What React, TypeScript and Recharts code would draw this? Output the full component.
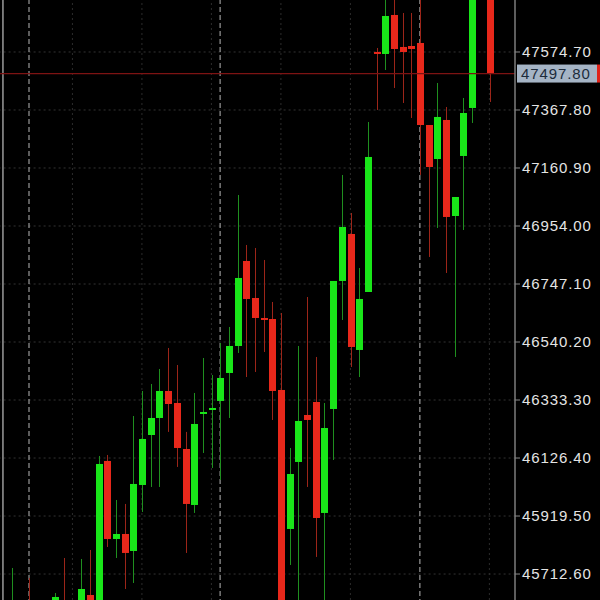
import {
  Bar,
  CartesianGrid,
  ComposedChart,
  ReferenceLine,
  XAxis,
  YAxis,
} from "recharts";

// candle slots, one per bar position (null = nothing drawn there)
const slots = [
  -6, -5, -4, -3, -2, -1, 0, 1, 2, 3, 4, 5, 6, 7, 8, 9, 10, 11, 12, 13, 14, 15,
  16, 17, 18, 19, 20, 21, 22, 23, 24, 25, 26, 27, 28, 29, 30, 31, 32, 33, 34,
  35, 36, 37, 38, 39, 40, 41, 42, 43, 44, 45, 46, 47, 48, 49, 50, 51, 52,
];

const opens = [
  null, 45477.3, 45566.5, 45577.2, 45495.2, 45530.9, 45609.3, 45609.3, 45530.9,
  45602.2, 45637.8, 45577.2, 46115.9, 45837.6, 45855.4, 45794.8, 46030.2,
  46208.5, 46269.2, 46365.5, 46322.7, 46158.6, 45958.9, 46283.5, 46297.7,
  46329.9, 46429.7, 46526.0, 46829.2, 46697.2, 46625.9, 46622.3, 46369.1,
  45873.3, 46112.3, 46279.9, 46326.3, 45930.4, 46301.3, 46757.9, 46925.5,
  46511.8, 46718.6, 47574.7, 47567.6, 47706.7, 47592.6, 47596.1, 47606.8,
  47314.3, 47193.0, 47332.2, 46989.7, 47203.8, 47375.0, 47974.2, 47831.5, null,
  null,
];

const highs = [
  null, 45734.1, 45598.6, 45698.5, 45609.3, 45616.5, 45644.9, 45769.8, 45612.9,
  45766.3, 45798.4, 46133.7, 46137.3, 45976.7, 45962.5, 46276.3, 46365.5,
  46390.5, 46444.0, 46518.9, 46458.2, 46219.5, 46358.4, 46483.2, 46422.6,
  46536.7, 46593.8, 47064.6, 46886.3, 46875.6, 46832.8, 46683.0, 46643.7,
  46162.2, 46526.0, 46700.8, 46486.8, 46322.7, 46757.9, 47136.0, 47000.4,
  46804.2, 47325.0, 47589.0, 47788.7, 47778.0, 47713.8, 47713.8, 47770.9,
  47314.3, 47464.1, 47378.5, 47057.5, 47410.6, 47867.2, 48045.6, 47867.2, null,
  null,
];

const lows = [
  null, 45441.7, 45423.9, 45441.7, 45448.8, 45477.3, 45566.5, 45530.9, 45513.0,
  45577.2, 45541.5, 45555.8, 45809.1, 45769.8, 45659.2, 45680.6, 45933.9,
  46023.1, 46023.1, 46219.5, 46094.5, 45787.7, 45930.4, 46144.4, 46090.8,
  46048.0, 46269.2, 46501.1, 46415.3, 46433.3, 46504.6, 46262.1, 45530.9,
  45744.8, 45602.2, 46023.1, 45773.5, 45602.2, 46119.4, 46618.8, 46451.1,
  46415.3, 46718.6, 47367.8, 47510.5, 47446.3, 47392.8, 47339.3, 47136.0,
  46843.5, 46946.9, 46786.4, 46486.8, 46939.8, 47321.5, 47795.9, 47396.4, null,
  null,
];

const closes = [
  null, 45584.3, 45477.3, 45513.0, 45577.2, 45591.5, 45630.7, 45577.2, 45584.3,
  45659.2, 45566.5, 46105.1, 45837.6, 45855.4, 45787.7, 46033.8, 46194.3,
  46269.2, 46365.5, 46319.1, 46162.2, 45962.5, 46247.8, 46290.6, 46304.9,
  46411.9, 46526.0, 46768.6, 46693.7, 46625.9, 46618.8, 46365.5, 45584.3,
  46069.4, 46258.5, 46262.1, 45912.5, 46233.5, 46757.9, 46950.5, 46522.5,
  46693.7, 47200.2, 47567.6, 47703.1, 47585.4, 47574.7, 47585.4, 47314.3,
  47164.5, 47342.9, 46986.2, 47057.5, 47357.1, 47831.5, 47867.2, 47497.8, null,
  null,
];

const priceTicks = [
  45712.6, 45919.5, 46126.4, 46333.3, 46540.2, 46747.1, 46954.0, 47160.9,
  47367.8, 47574.7, 47781.6,
];

const sessionBreaks = [-3, 19, 42];
const gridSlots = [2, 10, 18, 26, 34, 50];
const edgeSlot = -6;

const lastPrice = 47497.8;

const data = slots.map((i, k) => ({
  i,
  open: opens[k],
  high: highs[k],
  low: lows[k],
  close: closes[k],
}));

const UP = "#19e619";
const DOWN = "#e8281b";
const UP_WICK = "#1f8f1f";
const DOWN_WICK = "#9c2519";
const FONT = "'Liberation Sans', Arial, sans-serif";

function Candle(props: any) {
  const { x, y, width, height, payload } = props;
  if (payload == null || payload.high == null) return null;
  const { open, high, low, close } = payload;
  const top = Math.min(y, y + height);
  const h = Math.abs(height);
  const k = h / (high - low || 1);
  const py = (v: number) => top + (high - v) * k;
  const cx = Math.round(x + width / 2) + 0.5;
  const up = close >= open;
  const bTop = py(Math.max(open, close));
  const bH = Math.max(2, py(Math.min(open, close)) - bTop);
  return (
    <g>
      <line
        x1={cx}
        x2={cx}
        y1={top}
        y2={top + h}
        stroke={up ? UP_WICK : DOWN_WICK}
        strokeWidth={1}
      />
      <rect
        x={cx - 3.5}
        y={bTop}
        width={7}
        height={bH}
        fill={up ? UP : DOWN}
      />
    </g>
  );
}

function PriceTag(props: any) {
  const { viewBox } = props;
  if (!viewBox) return null;
  const x = viewBox.x + viewBox.width + 2;
  const y = viewBox.y;
  return (
    <g>
      <rect x={x} y={y - 9} width={80} height={18} fill="#a5b4c5" />
      <rect x={x + 80} y={y - 9} width={3} height={18} fill="#e0231a" />
      <text
        x={x + 4}
        y={y}
        dy="0.36em"
        fill="#1c2b3b"
        fontSize={15}
        letterSpacing={0.9}
        fontFamily={FONT}
      >
        {lastPrice.toFixed(2)}
      </text>
    </g>
  );
}

export default function App() {
  return (
    <div
      style={{
        position: "fixed",
        left: 0,
        top: 0,
        width: 600,
        height: 600,
        background: "#000",
        overflow: "hidden",
      }}
    >
      <div style={{ position: "absolute", left: -10, top: -20 }}>
        <ComposedChart
          width={620}
          height={640}
          data={data}
          margin={{ top: 0, right: 10, bottom: 0, left: 8.6 }}
          barCategoryGap={0}
        >
          <CartesianGrid
            vertical={false}
            stroke="#333"
            strokeDasharray="2 3"
          />
          <XAxis
            dataKey="i"
            type="category"
            hide
            padding={{ left: 0, right: 3.9 }}
          />
          <YAxis
            orientation="right"
            width={85}
            domain={[45548.6, 47831.5]}
            allowDataOverflow
            ticks={priceTicks}
            interval={0}
            tickFormatter={(v: number) => v.toFixed(2)}
            axisLine={{ stroke: "#7c7c7c", strokeWidth: 1.5 }}
            tickLine={{ stroke: "#8a8a8a" }}
            tickSize={5}
            tickMargin={2}
            tick={{
              fill: "#e4e4e4",
              fontSize: 15,
              fontFamily: FONT,
              letterSpacing: 0.9,
            }}
          />
          <ReferenceLine
            x={edgeSlot}
            stroke="#9a9a9a"
            strokeWidth={1.5}
            zIndex={-50}
          />
          {gridSlots.map((s) => (
            <ReferenceLine
              key={`g${s}`}
              x={s}
              stroke="#2c2c2c"
              strokeDasharray="2 3"
              zIndex={-50}
            />
          ))}
          {sessionBreaks.map((s) => (
            <ReferenceLine
              key={`s${s}`}
              x={s}
              stroke="#b8b8b8"
              strokeDasharray="5 3"
              zIndex={-50}
            />
          ))}
          <ReferenceLine
            y={lastPrice}
            stroke="#7d1313"
            strokeWidth={1.2}
            label={<PriceTag />}
          />
          <Bar
            dataKey={(d: any) => (d.high == null ? null : [d.low, d.high])}
            shape={<Candle />}
            isAnimationActive={false}
          />
        </ComposedChart>
      </div>
    </div>
  );
}
